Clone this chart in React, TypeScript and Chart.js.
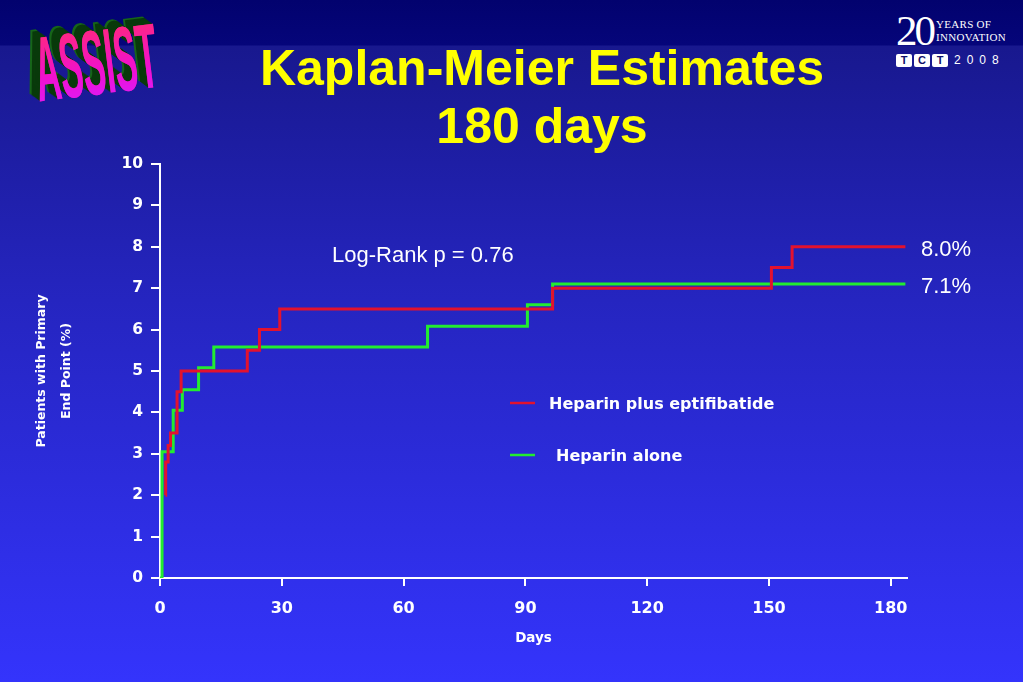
import React, { useRef, useEffect } from 'react';
import { Chart, registerables } from 'chart.js';

Chart.register(...registerables);

// Kaplan-Meier step points (day of event, cumulative % after the event)
const eptDays = [1.35, 1.4, 2.0, 2.6, 4.2, 5.2, 21.5, 24.5, 29.5, 96.7, 150.6, 155.7, 183.6];
const eptRates = [2.0, 2.8, 3.2, 3.5, 4.5, 5.0, 5.5, 6.0, 6.5, 7.0, 7.5, 8.0, 8.0];
const hepDays = [0, 0.5, 3.25, 5.5, 9.5, 13.25, 65.9, 90.5, 96.7, 183.6];
const hepRates = [0, 3.05, 4.05, 4.55, 5.08, 5.58, 6.08, 6.6, 7.1, 7.1];

const seriesNames = ['Heparin plus eptifibatide', 'Heparin alone'];
const seriesColors = ['#e3122e', '#22ec30'];
const endLabels = ['8.0%', '7.1%'];
const logRankText = 'Log-Rank p = 0.76';

const chartFamily = '"DejaVu Sans", Verdana, sans-serif';

const overlayPlugin = {
  id: 'overlay',
  afterDatasetsDraw(chart: any) {
    const { ctx, chartArea } = chart;
    ctx.save();
    ctx.textBaseline = 'middle';
    ctx.textAlign = 'left';

    // end-of-curve labels
    ctx.fillStyle = '#ffffff';
    ctx.font = '22px "Liberation Sans", Arial, sans-serif';
    chart.data.datasets.forEach((_ds: any, i: number) => {
      const meta = chart.getDatasetMeta(i);
      const last = meta.data[meta.data.length - 1];
      ctx.fillText(endLabels[i], chartArea.right + 14, last.y + 3);
    });

    // log-rank annotation
    ctx.fillText(logRankText, 332, 256);

    // legend
    const legendRows = [403, 455];
    const textStart = [549, 556];
    chart.data.datasets.forEach((ds: any, i: number) => {
      ctx.strokeStyle = ds.borderColor;
      ctx.lineWidth = 2.5;
      ctx.beginPath();
      ctx.moveTo(510, legendRows[i]);
      ctx.lineTo(535, legendRows[i]);
      ctx.stroke();
      ctx.fillStyle = '#ffffff';
      ctx.font = `bold 16px ${chartFamily}`;
      ctx.fillText(ds.label, textStart[i], legendRows[i] + 2);
    });
    ctx.restore();
  },
};

const assistBase: React.CSSProperties = {
  position: 'absolute',
  left: 0,
  top: 0,
  fontFamily: '"Liberation Sans", Arial, sans-serif',
  fontWeight: 'bold',
  fontSize: 92,
  lineHeight: '100px',
  whiteSpace: 'nowrap',
};

const AssistLogo = () => (
  <div
    style={{
      position: 'absolute',
      left: 29,
      top: 20,
      width: 400,
      height: 100,
      transform: 'rotate(-7deg) scaleX(0.37)',
      transformOrigin: 'left top',
    }}
  >
    <span
      style={{
        ...assistBase,
        color: '#e0108c',
        textShadow: [1, 2, 3, 4, 5, 6, 7, 8, 9, 10]
          .map((k) => `${-k * 2.5}px ${-k * 0.85}px 0 ${k > 8 ? '#17661a' : '#093a0b'}`)
          .join(', '),
      }}
    >
      ASSIST
    </span>
    <span
      style={{
        ...assistBase,
        color: 'transparent',
        backgroundImage: 'linear-gradient(to bottom, #ff2a78 10%, #f010d0 60%, #d81cff 95%)',
        WebkitBackgroundClip: 'text',
        backgroundClip: 'text',
      }}
    >
      ASSIST
    </span>
  </div>
);

const TctLogo = () => (
  <div style={{ position: 'absolute', left: 896, top: 9, color: '#ffffff' }}>
    <div style={{ display: 'flex', alignItems: 'center' }}>
      <span style={{ fontFamily: '"Liberation Serif", serif', fontSize: 43, lineHeight: '44px', letterSpacing: -3 }}>20</span>
      <span
        style={{
          fontFamily: '"Liberation Serif", serif',
          fontSize: 11,
          lineHeight: '13px',
          marginLeft: 3,
          letterSpacing: 0.3,
        }}
      >
        YEARS OF
        <br />
        INNOVATION
      </span>
    </div>
    <div style={{ display: 'flex', alignItems: 'center', marginTop: 0 }}>
      {['T', 'C', 'T'].map((c, i) => (
        <span
          key={i}
          style={{
            background: '#ffffff',
            color: '#10106a',
            fontFamily: '"Liberation Sans", Arial, sans-serif',
            fontWeight: 'bold',
            fontSize: 11,
            lineHeight: '13px',
            width: 16,
            textAlign: 'center',
            marginRight: 2,
            borderRadius: 2,
          }}
        >
          {c}
        </span>
      ))}
      <span
        style={{
          fontFamily: '"Liberation Sans", Arial, sans-serif',
          fontSize: 12,
          letterSpacing: 6,
          marginLeft: 4,
        }}
      >
        2008
      </span>
    </div>
  </div>
);

export default function App() {
  const canvasRef = useRef<HTMLCanvasElement | null>(null);

  useEffect(() => {
    const chart = new Chart(canvasRef.current!, {
      type: 'line',
      data: {
        datasets: [
          {
            label: seriesNames[0],
            data: eptDays.map((d, i) => ({ x: d, y: eptRates[i] })),
            borderColor: seriesColors[0],
            borderWidth: 3,
            stepped: 'before',
            pointRadius: 0,
            fill: false,
          },
          {
            label: seriesNames[1],
            data: hepDays.map((d, i) => ({ x: d, y: hepRates[i] })),
            borderColor: seriesColors[1],
            borderWidth: 3,
            stepped: 'before',
            pointRadius: 0,
            fill: false,
          },
        ],
      },
      options: {
        responsive: false,
        animation: false,
        layout: { padding: { top: 164, right: 116, left: 0, bottom: 0 } },
        plugins: {
          legend: { display: false },
          tooltip: { enabled: false },
        },
        scales: {
          x: {
            type: 'linear',
            min: 0,
            max: 184,
            afterFit: (s: any) => {
              s.height = 104;
            },
            border: { display: true, color: '#ffffff', width: 2 },
            grid: { display: true, drawOnChartArea: false, drawTicks: true, tickLength: 8, color: '#ffffff', lineWidth: 2 },
            ticks: {
              stepSize: 30,
              includeBounds: false,
              color: '#ffffff',
              font: { family: chartFamily, size: 16, weight: 'bold' },
              padding: 13,
              maxRotation: 0,
            },
            title: {
              display: true,
              text: 'Days',
              color: '#ffffff',
              font: { family: chartFamily, size: 13.5, weight: 'bold' },
              padding: { top: 0, bottom: 35 },
            },
          },
          y: {
            type: 'linear',
            min: 0,
            max: 10,
            afterFit: (s: any) => {
              s.width = 160;
            },
            border: { display: true, color: '#ffffff', width: 2 },
            grid: { display: true, drawOnChartArea: false, drawTicks: true, tickLength: 9, color: '#ffffff', lineWidth: 2 },
            ticks: {
              stepSize: 1,
              color: '#ffffff',
              font: { family: chartFamily, size: 15.5, weight: 'bold' },
              padding: 8,
            },
            title: {
              display: true,
              text: ['Patients with Primary', 'End Point (%)'],
              color: '#ffffff',
              font: { family: chartFamily, size: 12.5, weight: 'bold', lineHeight: 2 },
              padding: { top: 29, bottom: 0 },
            },
          },
        },
      },
      plugins: [overlayPlugin],
    });
    return () => chart.destroy();
  }, []);

  return (
    <div
      style={{
        position: 'fixed',
        left: 0,
        top: 0,
        width: 1023,
        height: 682,
        overflow: 'hidden',
        background:
          'linear-gradient(to bottom, #02026e 0px, #05057a 45px, #18188e 46px, #2525c0 300px, #3434fc 682px)',
      }}
    >
      <AssistLogo />
      <TctLogo />
      <div
        style={{
          position: 'absolute',
          left: 242,
          top: 39,
          width: 600,
          textAlign: 'center',
          color: '#ffff00',
          fontFamily: '"Liberation Sans", Arial, sans-serif',
          fontWeight: 'bold',
          fontSize: 50,
          lineHeight: '58px',
        }}
      >
        Kaplan-Meier Estimates
        <br />
        180 days
      </div>
      <canvas
        ref={canvasRef}
        width={1023}
        height={682}
        style={{ position: 'absolute', left: 0, top: 0, display: 'block' }}
      />
    </div>
  );
}
